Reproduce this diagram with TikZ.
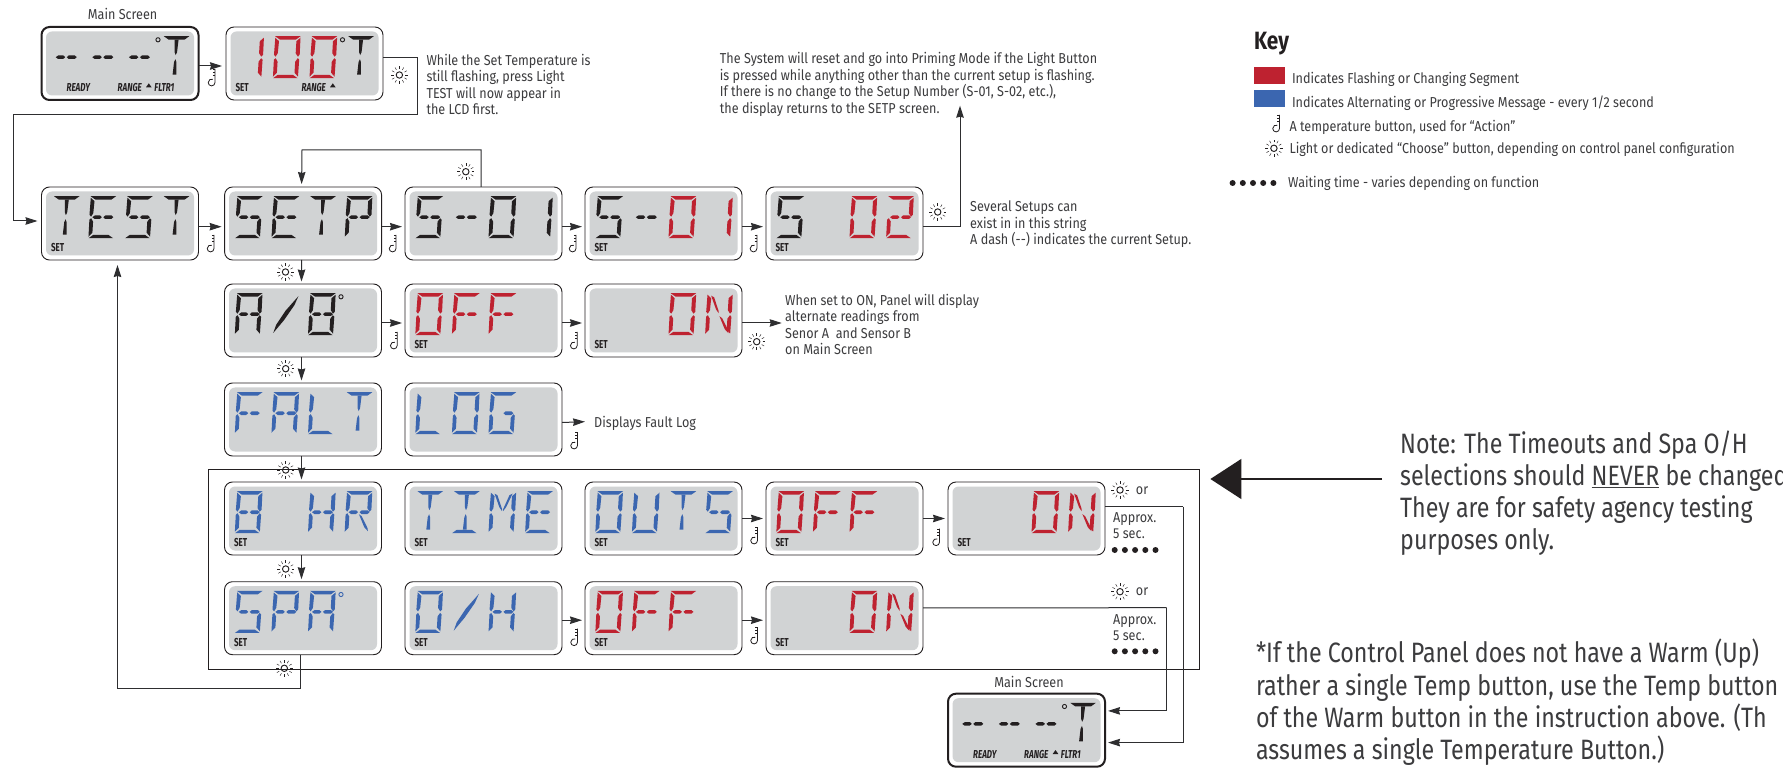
\documentclass[tikz,border=0pt]{standalone}
\usepackage{fontspec}
\setmainfont[FakeStretch=0.83]{Fira Sans}
\newfontfamily\lcdfont[FakeStretch=0.7]{Fira Sans}
\newfontfamily\smallfont[FakeStretch=0.875]{Fira Sans}
\usetikzlibrary{arrows.meta}
\definecolor{ink}{HTML}{231F20}
\definecolor{wire}{HTML}{2E2E30}
\definecolor{txtc}{HTML}{3C3C3E}
\definecolor{lcdgray}{HTML}{D1D3D4}
\definecolor{segred}{HTML}{BE2230}
\definecolor{segblue}{HTML}{3B66B0}
\tikzset{
  lcdbox/.style={draw=ink,line width=0.9pt,fill=white,rounded corners=8pt,minimum width=157pt,minimum height=73pt,inner sep=0pt,outer sep=0pt},
  lcdmain/.style={lcdbox,line width=2pt},
  lcdin/.style={fill=lcdgray,rounded corners=6pt,minimum width=148pt,minimum height=64pt,inner sep=0pt,outer sep=0pt},
  frm/.style={draw=ink,line width=1pt,minimum width=991.7pt,minimum height=200pt,inner sep=0pt,outer sep=0pt},
  wirearrow/.style={draw=wire,line width=1pt,-{Stealth[length=12pt,width=7.5pt,inset=1pt]}},
  wireplain/.style={draw=wire,line width=1pt},
  setlbl/.style={font=\lcdfont\fontsize{11.5}{11.5}\selectfont\bfseries,text=ink,inner sep=0pt,anchor=west},
  statuslbl/.style={font=\lcdfont\fontsize{11.5}{11.5}\selectfont\bfseries\itshape,text=ink,inner sep=0pt,anchor=west},
  smalltxt/.style={font=\smallfont\fontsize{14.4}{16.5}\selectfont,text=txtc,inner sep=0pt,anchor=north west,align=left},
  bigtxt/.style={font=\fontsize{28}{32.3}\selectfont,text=txtc,inner sep=0pt,anchor=north west,align=left},
  keyhead/.style={font=\fontsize{25}{27}\selectfont\bfseries,text=ink,inner sep=0pt,anchor=west},
}
% segments, in a cell 26 wide and 42 tall
\def\sega{\fill (0,0)--(25.5,0)--(21,3.4)--(5,3.4)--cycle;}
\def\segd{\fill (0.5,42)--(25,42)--(20,38.6)--(5,38.6)--cycle;}
\def\segf{\fill (0.3,1.5)--(4.2,5)--(3.7,17)--(1.7,20.5)--(0,18.5)--cycle;}
\def\sege{\fill (0.2,23.5)--(1.9,22)--(4,25.5)--(4,36.5)--(0.3,40.5)--cycle;}
\def\segb{\fill (25.5,1.5)--(21.6,5)--(21.6,17)--(24,20.5)--(25.7,18.5)--cycle;}
\def\segc{\fill (25.5,23.5)--(24,22)--(21.6,25.5)--(21.6,36.5)--(25.3,40.5)--cycle;}
\def\segp{\fill (3,21)--(5.5,19.2)--(10.5,19.2)--(12.5,21)--(10.5,22.8)--(5.5,22.8)--cycle;}
\def\segq{\fill (14,21)--(16,19.2)--(22,19.2)--(24,21)--(22,22.8)--(16,22.8)--cycle;}
\def\segh{\fill (11,3.5)--(15,3.5)--(14.2,16)--(13,19)--(11.8,16)--cycle;}
\def\segi{\fill (13,23)--(14.2,26)--(14.9,38.5)--(11.1,38.5)--(11.8,26)--cycle;}
\def\segj{\fill (4,2.5)--(7,4)--(12.5,18)--(12.5,20)--(9.6,16)--cycle;}
\def\segk{\fill (22,2.5)--(19,4)--(13.5,18)--(13.5,20)--(16.4,16)--cycle;}
\def\segm{\fill (13.5,23)--(16.4,25)--(23,37)--(23.5,40)--(19.6,36)--cycle;}
\def\segs{\fill (25,3)--(21.5,12)--(12,27)--(2,39.8)--(4.5,31.5)--(13,17.5)--cycle;}
\newcommand\defL[2]{\expandafter\def\csname L#1\endcsname{#2}}
\defL{T}{a,h,i}\defL{E}{a,f,e,d,p,q}\defL{S}{a,f,p,q,c,d}\defL{P}{a,b,f,e,p,q}
\defL{D}{p,q}\defL{0}{a,b,c,d,e,f}\defL{1}{b,c}\defL{2}{a,b,p,q,e,d}\defL{8}{a,b,c,d,e,f,p,q}
\defL{A}{a,b,c,e,f,p,q}\defL{X}{s}\defL{F}{a,f,e,p,q}\defL{L}{f,e,d}\defL{G}{a,f,e,d,c,q}
\defL{N}{f,e,b,c,j,m}\defL{H}{f,e,b,c,p,q}\defL{R}{a,b,f,e,p,q,m}\defL{I}{a,h,i,d}
\defL{M}{f,e,b,c,j,k}\defL{U}{f,e,d,c,b}
\newcommand\lcd[4][lcdbox]{%
  \def\lcdx{#3}\def\lcdy{#4}%
  \node[#1] (#2) at (#3+78.5,#4+36.5) {};
  \node[lcdin] (#2-in) at (#2.center) {};
}
\newcommand\ch[3]{%
  \begin{scope}[shift={(\lcdx+12.5+36.6*#1,\lcdy+9.2)},y={(-0.06pt,-1pt)},fill=#2]
    \edef\seglist{\csname L#3\endcsname}%
    \foreach \s in \seglist {\csname seg\s\endcsname}
  \end{scope}
}
\newcommand\setl[1]{\node[setlbl] (#1-set) at (\lcdx+9.3,\lcdy+60.5) {SET};}
\newcommand\dego[2]{\draw[#2,line width=0.9pt] (\lcdx+116.5,\lcdy+12.8) circle (2.1pt);}
\newcommand\thermo[2]{%
  \begin{scope}[shift={(#1+1.5,#2)}]
    \draw[ink,line width=0.8pt] (3,-8)--(3,5.5) arc (0:-290:3.4pt);
    \draw[ink,line width=0.55pt] (0.8,-7.5)--(3,-7.5) (0.8,-4.5)--(3,-4.5) (0.8,-1.5)--(3,-1.5);
  \end{scope}}
\newcommand\sunicon[2]{%
  \begin{scope}[shift={(#1,#2)}]
    \draw[ink,line width=0.95pt] (0,0) circle (3.2pt);
    \foreach \r in {0,30,...,330}{\draw[ink,line width=0.45pt] (\r:5.8pt)--(\r:8.6pt);}
  \end{scope}}
\newcommand\wdots[2]{\foreach \k in {0,1,2,3,4}{\fill[ink] (#1+10.2*\k,#2) circle (3pt);}}
\newcommand\tri[2]{\fill[ink] (#1-2.8,#2+1.8)--(#1+2.8,#2+1.8)--(#1,#2-2.2)--cycle;}
\begin{document}
\begin{tikzpicture}[x=1pt,y=-1pt]
\useasboundingbox (0,0) rectangle (1783,775);
\fill[white] (0,0) rectangle (1783,775);
\clip (0,0) rectangle (1783,775);
% frame
\node[frm] (fr) at (703.85,569) {};
% row 0
\lcd[lcdmain]{m1}{41.5}{27}
\foreach \c in {0,1,2}{\ch{\c}{ink}{D}}
\ch{3}{ink}{T}\dego{}{ink}
\node[statuslbl] (m1-a) at (\lcdx+25,\lcdy+61) {READY};
\node[statuslbl] (m1-b) at (\lcdx+76,\lcdy+61) {RANGE};
\node[statuslbl] (m1-c) at (\lcdx+112.7,\lcdy+61) {FLTR1};
\tri{\lcdx+107.3}{\lcdy+58.5}
\lcd{t100}{226}{27}
\ch{0}{segred}{1}\ch{1}{segred}{0}\ch{2}{segred}{0}\ch{3}{ink}{T}\dego{}{ink}\setl{t100}
\node[statuslbl] (t100-b) at (\lcdx+75.5,\lcdy+61) {RANGE};
\tri{\lcdx+106.8}{\lcdy+58.5}
% row 1
\lcd{test}{41.5}{187}
\ch{0}{ink}{T}\ch{1}{ink}{E}\ch{2}{ink}{S}\ch{3}{ink}{T}\setl{test}
\lcd{setp}{224.6}{187}
\ch{0}{ink}{S}\ch{1}{ink}{E}\ch{2}{ink}{T}\ch{3}{ink}{P}
\lcd{sa}{405}{187}
\ch{0}{ink}{S}\ch{1}{ink}{D}\ch{2}{ink}{0}\ch{3}{ink}{1}
\lcd{sb}{585}{187}
\ch{0}{ink}{S}\ch{1}{ink}{D}\ch{2}{segred}{0}\ch{3}{segred}{1}\setl{sb}
\lcd{sc}{766}{187}
\ch{0}{ink}{S}\ch{2}{segred}{0}\ch{3}{segred}{2}\setl{sc}
% row 2
\lcd{ab}{224.5}{284}
\ch{0}{ink}{A}\ch{1}{ink}{X}\ch{2}{ink}{8}\dego{}{ink}
\lcd{offa}{405}{284}
\ch{0}{segred}{0}\ch{1}{segred}{F}\ch{2}{segred}{F}\setl{offa}
\lcd{ona}{585}{284}
\ch{2}{segred}{0}\ch{3}{segred}{N}\setl{ona}
% row 3
\lcd{falt}{224.5}{383}
\ch{0}{segblue}{F}\ch{1}{segblue}{A}\ch{2}{segblue}{L}\ch{3}{segblue}{T}
\lcd{log}{405}{383}
\ch{0}{segblue}{L}\ch{1}{segblue}{0}\ch{2}{segblue}{G}
% row 4
\lcd{hr}{224.5}{482}
\ch{0}{segblue}{8}\ch{2}{segblue}{H}\ch{3}{segblue}{R}\setl{hr}
\lcd{time}{405}{482}
\ch{0}{segblue}{T}\ch{1}{segblue}{I}\ch{2}{segblue}{M}\ch{3}{segblue}{E}\setl{time}
\lcd{outs}{585}{482}
\ch{0}{segblue}{0}\ch{1}{segblue}{U}\ch{2}{segblue}{T}\ch{3}{segblue}{S}\setl{outs}
\lcd{offb}{766}{482}
\ch{0}{segred}{0}\ch{1}{segred}{F}\ch{2}{segred}{F}\setl{offb}
\lcd{onb}{948}{482}
\ch{2}{segred}{0}\ch{3}{segred}{N}\setl{onb}
% row 5
\lcd{spa}{224.5}{581.7}
\ch{0}{segblue}{S}\ch{1}{segblue}{P}\ch{2}{segblue}{A}\dego{}{segblue}\setl{spa}
\lcd{oh}{405}{581.7}
\ch{0}{segblue}{0}\ch{1}{segblue}{X}\ch{2}{segblue}{H}\setl{oh}
\lcd{offc}{585}{581.7}
\ch{0}{segred}{0}\ch{1}{segred}{F}\ch{2}{segred}{F}\setl{offc}
\lcd{onc}{766}{581.7}
\ch{2}{segred}{0}\ch{3}{segred}{N}\setl{onc}
% main screen, bottom
\lcd[lcdmain]{m2}{948}{693.7}
\foreach \c in {0,1,2}{\ch{\c}{ink}{D}}
\ch{3}{ink}{T}\dego{}{ink}
\node[statuslbl] (m2-a) at (\lcdx+25,\lcdy+61) {READY};
\node[statuslbl] (m2-b) at (\lcdx+76,\lcdy+61) {RANGE};
\node[statuslbl] (m2-c) at (\lcdx+112.7,\lcdy+61) {FLTR1};
\tri{\lcdx+107.5}{\lcdy+58.5}
% named bends and free ends
\coordinate (wa) at (417,115);
\coordinate (wb) at (13,115);
\coordinate (upend) at (960,105.7);
\coordinate (fault) at (585,421.7);
\coordinate (alt) at (781.7,323);
\coordinate (ba) at (1183,506.7);
\coordinate (bb) at (1166.7,607.7);
\coordinate (notetail) at (1382,479);
\coordinate (notehead) at (1210.4,479);
% connectors
\draw[wirearrow] ([yshift=-2.5pt]m1.east) -- ([yshift=-2.5pt,xshift=-4pt]t100.west);
\draw[wirearrow] ([yshift=5.5pt]t100.east) -| (wa) -- (wb) |- ([yshift=2.5pt,xshift=-4pt]test.west);
\foreach \a/\b in {test/setp,setp/sa,sa/sb,sb/sc}{\draw[wirearrow] ([yshift=-3.2pt]\a.east) -- ([yshift=-3.2pt,xshift=-3pt]\b.west);}
\draw[wirearrow] ([xshift=-2.5pt]sa.north) |- (302,150) -- ([xshift=-1.5pt,yshift=3pt]setp.north);
\draw[wirearrow] ([yshift=-3.2pt]sc.east) -| (upend);
\foreach \a/\b in {setp/ab,ab/falt,falt/hr,hr/spa}{\draw[wirearrow] ([xshift=-1.5pt]\a.south) -- ([xshift=-1.5pt,yshift=2.5pt]\b.north);}
\foreach \a/\b in {ab/offa,offa/ona}{\draw[wirearrow] ([yshift=-2.5pt]\a.east) -- ([yshift=-2.5pt,xshift=-3pt]\b.west);}
\draw[wirearrow] ([yshift=-2.5pt]ona.east) -- (alt);
\draw[wirearrow] ([yshift=-3pt]log.east) -- (fault);
\foreach \a/\b in {outs/offb,offb/onb}{\draw[wirearrow] (\a.east) -- ([xshift=-3pt]\b.west);}
\foreach \a/\b in {oh/offc,offc/onc}{\draw[wirearrow] ([yshift=-2pt]\a.east) -- ([yshift=-2pt,xshift=-3pt]\b.west);}
\draw[wirearrow] ([xshift=-2.5pt]spa.south) -- ++(0,34) -| ([xshift=-2.5pt,yshift=-5pt]test.south);
\draw[wireplain] ([yshift=11.8pt]onb.east) -- (ba);
\draw[wirearrow] (ba) |- ([yshift=-12.4pt,xshift=3pt]m2.east);
\draw[wireplain] ([yshift=10.3pt]onc.east) -- (bb);
\draw[wirearrow] (bb) |- ([yshift=19.3pt,xshift=3pt]m2.east);
\draw[ink,line width=1.5pt,-{Triangle[length=31pt,width=40pt]}] (notetail) -- (notehead);
% thermometer icons
\thermo{210.5}{77}\thermo{209.5}{243}\thermo{391.5}{243}\thermo{571.5}{243}\thermo{752.4}{243}
\thermo{392.7}{340}\thermo{572.7}{340}\thermo{573}{440}\thermo{753}{535}\thermo{935}{536.7}
\thermo{573}{636.7}\thermo{753}{635}\thermo{1275}{123}
% light icons
\sunicon{399.4}{75}\sunicon{465.8}{171.7}\sunicon{285.5}{272}\sunicon{285.7}{368.7}\sunicon{285.7}{470}
\sunicon{285.7}{569}\sunicon{284.3}{668.3}\sunicon{937.7}{212}\sunicon{756.7}{341.7}\sunicon{1120}{490}
\sunicon{1120}{591.7}\sunicon{1273.9}{148.3}
% labels
\node[smalltxt,anchor=center] (lmain1) at (122.6,14.3) {Main Screen};
\node[smalltxt,anchor=center] (lmain2) at (1029,681.7) {Main Screen};
\node[smalltxt] (l1) at (426.3,54) {While the Set Temperature is\\still flashing, press Light\\TEST will now appear in\\the LCD first.};
\node[smalltxt] (l2) at (719.7,52.5) {The System will reset and go into Priming Mode if the Light Button\\is pressed while anything other than the current setup is flashing.\\If there is no change to the Setup Number (S-01, S-02, etc.),\\the display returns to the SETP screen.};
\node[smalltxt] (l3) at (970,201) {Several Setups can\\exist in in this string\\A dash (-{}-) indicates the current Setup.};
\node[smalltxt] (l4) at (785,294) {When set to ON, Panel will display\\alternate readings from\\Senor A~ and Sensor B\\on Main Screen};
\node[smalltxt] (l5) at (594,416) {Displays Fault Log};
\node[smalltxt] (or1) at (1135.7,487) {or};
\node[smalltxt] (ap1) at (1113,512) {Approx.\\5 sec.};
\wdots{1114.7}{550}
\node[smalltxt] (or2) at (1135.7,588) {or};
\node[smalltxt] (ap2) at (1113,614) {Approx.\\5 sec.};
\wdots{1114.7}{651.3}
% key
\node[keyhead] (key) at (1254,44) {Key};
\fill[segred] (1254,67) rectangle (1285,83.7);
\fill[segblue] (1254,90) rectangle (1285,106.7);
\node[smalltxt] (k1) at (1291.8,72.5) {Indicates Flashing or Changing Segment};
\node[smalltxt] (k2) at (1291.8,95.5) {Indicates Alternating or Progressive Message - every 1/2 second};
\node[smalltxt] (k3) at (1289.3,120.3) {A temperature button, used for “Action”};
\node[smalltxt] (k4) at (1289.3,142.5) {Light or dedicated “Choose” button, depending on control panel configuration};
\wdots{1232.6}{183}
\node[smalltxt] (k5) at (1288,176.5) {Waiting time - varies depending on function};
% notes
\node[bigtxt] (n1) at (1400,430.3) {Note: The Timeouts and Spa O/H\\selections should \underline{NEVER} be changed\\They are for safety agency testing\\purposes only.};
\node[bigtxt] (n2) at (1255.8,639) {*If the Control Panel does not have a Warm (Up)\\rather a single Temp button, use the Temp button\\of the Warm button in the instruction above. (Th\\assumes a single Temperature Button.)};
\end{tikzpicture}
\end{document}
